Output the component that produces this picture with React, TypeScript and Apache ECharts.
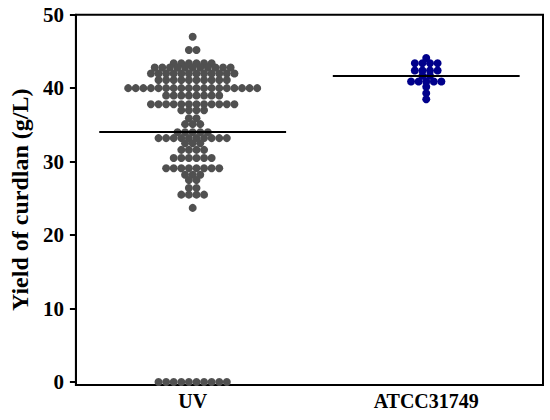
import React, { useEffect, useRef } from "react";
import * as echarts from "echarts";

const categories = ["UV", "ATCC31749"];
// [value (g/L), number of dots at that level]
const uvRows: [number, number][] = [
  [47.0, 1], [45.2, 2], [43.4, 6], [42.8, 11], [42.0, 12], [41.1, 10],
  [40.0, 18], [39.0, 8], [37.8, 12], [37.0, 4], [35.9, 2], [35.1, 3],
  [34.0, 5], [33.2, 10], [32.5, 3], [31.6, 4], [30.5, 6], [29.1, 8],
  [28.2, 3], [27.5, 2], [26.4, 2], [25.5, 4], [23.7, 1], [0, 10],
];
const atccRows: [number, number][] = [
  [44.1, 1], [43.4, 4], [42.4, 4], [41.7, 2], [40.9, 5], [40.2, 1],
  [39.3, 1], [38.5, 1],
];
const meanValues = [34.0, 41.7];
const yTicks = [0, 10, 20, 30, 40, 50];
const colors = ["#505050", "#00008b"];

const PX_PER_CAT = 240;
const DOT = 7.8;
const HALF_MEAN = 0.4;
const FONT = "'Liberation Serif', 'Times New Roman', serif";

function swarm(rows: [number, number][], catIndex: number) {
  const out: number[][] = [];
  rows.forEach(([v, n]) => {
    for (let i = 0; i < n; i++) {
      const off = ((i - (n - 1) / 2) * DOT) / PX_PER_CAT;
      out.push([catIndex + off, v]);
    }
  });
  return out;
}

export default function App() {
  const ref = useRef<HTMLDivElement>(null);
  useEffect(() => {
    document.body.style.margin = "0";
    if (!ref.current) return;
    const chart = echarts.init(ref.current, null, { renderer: "svg" });
    const groups = [uvRows, atccRows];
    const labelStyle = {
      fontFamily: FONT,
      fontWeight: "bold" as const,
      fontSize: 21,
      color: "#000",
    };
    chart.setOption({
      animation: false,
      grid: {
        left: 63,
        right: 7,
        top: 14.7,
        bottom: 35.1,
        show: true,
        borderColor: "#000",
        borderWidth: 2,
      },
      xAxis: [
        {
          type: "category",
          data: categories,
          boundaryGap: true,
          axisLine: { onZero: false, lineStyle: { color: "#000", width: 2 } },
          axisTick: { alignWithLabel: true, length: 6, lineStyle: { color: "#000", width: 2 } },
          axisLabel: { ...labelStyle, fontSize: 20, margin: 6 },
          splitLine: { show: false },
        },
        {
          type: "value",
          min: -0.5,
          max: 1.5,
          show: false,
          axisLine: { show: false, onZero: false },
          splitLine: { show: false },
        },
      ],
      yAxis: {
        type: "value",
        min: -0.4,
        max: 50,
        name: "Yield of curdlan (g/L)",
        nameLocation: "middle",
        nameGap: 42,
        nameTextStyle: { fontFamily: FONT, fontWeight: "bold", fontSize: 24, color: "#000" },
        axisLine: { show: true, onZero: false, lineStyle: { color: "#000", width: 2 } },
        axisTick: { show: true, length: 6, customValues: yTicks, lineStyle: { color: "#000", width: 2 } },
        axisLabel: { ...labelStyle, margin: 12, customValues: yTicks },
        splitLine: { show: false },
      },
      series: groups.map((rows, ci) => ({
        type: "scatter",
        xAxisIndex: 1,
        symbol: "circle",
        symbolSize: 8,
        itemStyle: { color: colors[ci], opacity: 1 },
        data: swarm(rows, ci),
        markLine: {
          silent: true,
          symbol: ["none", "none"],
          label: { show: false },
          lineStyle: { color: "#000", width: 2, type: "solid", opacity: 1 },
          data: [[{ coord: [ci - HALF_MEAN, meanValues[ci]] }, { coord: [ci + HALF_MEAN, meanValues[ci]] }]],
        },
      })),
    });
    return () => chart.dispose();
  }, []);
  return <div ref={ref} style={{ width: 550, height: 420 }} />;
}
